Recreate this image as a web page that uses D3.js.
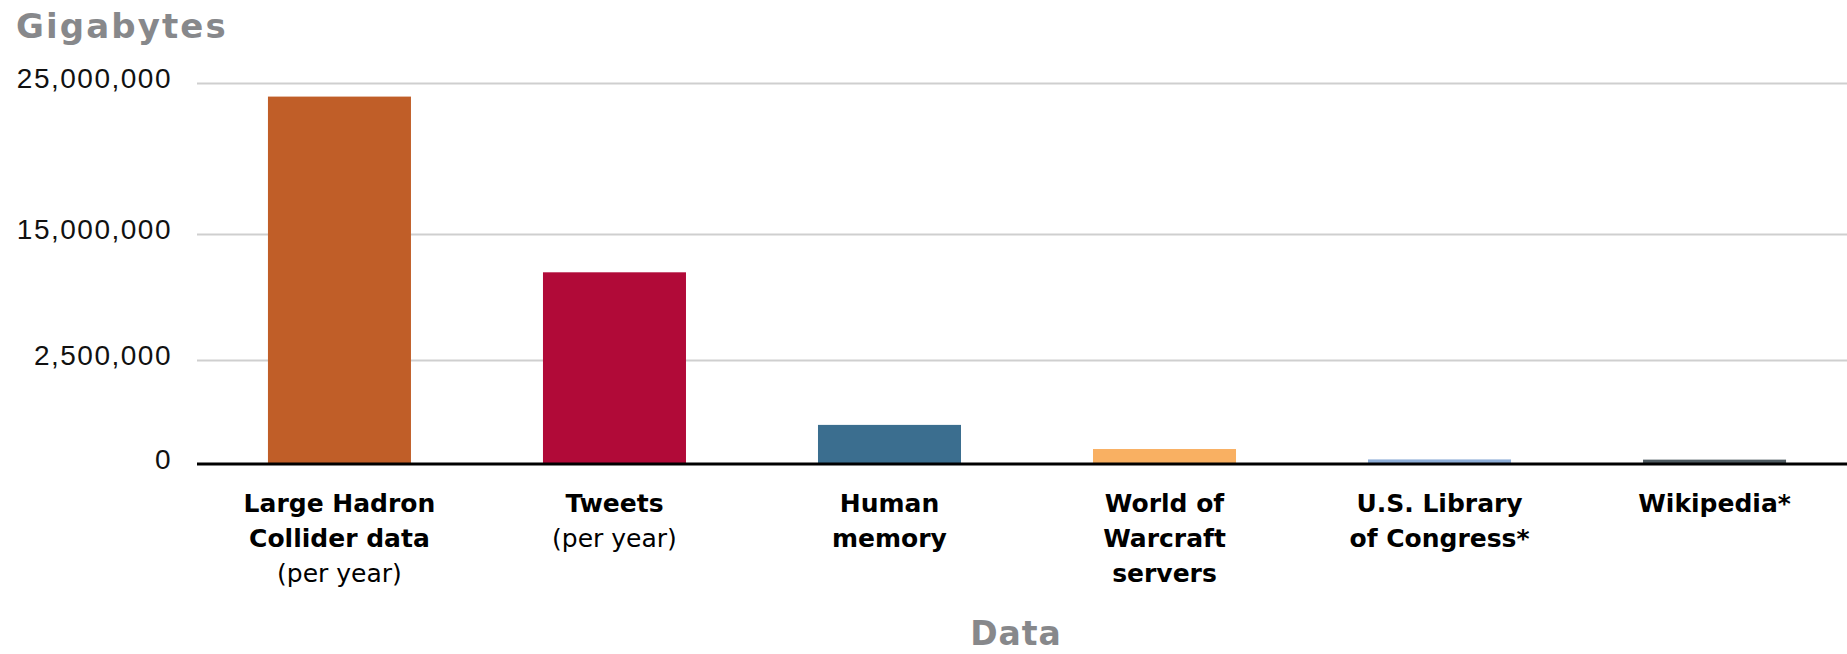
<!DOCTYPE html>
<html>
<head>
<meta charset="utf-8">
<script src="https://cdn.jsdelivr.net/npm/d3@7"></script>
<style>
  body { margin: 0; background: #fff; }
  svg { display: block; font-family: "DejaVu Sans", sans-serif; }
  .grid line { stroke: #cfcfcf; stroke-width: 2px; }
  .grid text { font-size: 28px; fill: #111; letter-spacing: 1.5px; }
  .cat { font-size: 25px; fill: #000; text-anchor: middle; }
  .cat .bold { font-weight: bold; }
  .title { font-weight: bold; fill: #87888b; }
</style>
</head>
<body>
<div id="chart"></div>
<script>
// categories, bold label lines and the small note under each one
var categories = ["lhc", "tweets", "memory", "wow", "loc", "wiki"];
var labelLines = [
  ["Large Hadron", "Collider data"],
  ["Tweets"],
  ["Human", "memory"],
  ["World of", "Warcraft", "servers"],
  ["U.S. Library", "of Congress*"],
  ["Wikipedia*"]
];
var notes = ["(per year)", "(per year)", "", "", "", ""];

// gigabytes
var values = [24100000, 11200000, 940000, 360000, 110000, 105000];
var colors = ["#c05e28", "#b10a38", "#3b6e8f", "#f9b062", "#8eaed8", "#4e5a60"];

// the y axis is piecewise: each tick gets its own band
var yTicks = [0, 2500000, 15000000, 25000000];

var W = 1847, H = 654;
var left = 197, zeroY = 464;

var svg = d3.select("#chart").append("svg")
    .attr("width", W)
    .attr("height", H);

var x = d3.scaleBand()
    .domain(categories)
    .range([left, 1857])
    .paddingInner(0.48)
    .paddingOuter(0.258);

var y = d3.scaleLinear()
    .domain(yTicks)
    .range([zeroY, 360, 234, 83]);

// gridlines + tick labels
var grid = svg.append("g")
    .attr("class", "grid")
    .attr("transform", "translate(" + left + ",0)")
    .call(d3.axisLeft(y)
        .tickValues(yTicks)
        .tickSize(-(W - left))
        .tickPadding(25)
        .tickFormat(d3.format(",")));
grid.select(".domain").remove();
grid.selectAll("text").attr("dy", "0.17em");
grid.selectAll(".tick").filter(function (d) { return d === 0; })
    .select("line").remove();

// bars
svg.append("g")
    .selectAll("rect")
    .data(values)
    .enter().append("rect")
    .attr("x", function (d, i) { return x(categories[i]); })
    .attr("width", x.bandwidth())
    .attr("y", function (d) { return y(d); })
    .attr("height", function (d) { return y(0) - y(d); })
    .attr("fill", function (d, i) { return colors[i]; });

// baseline
svg.append("line")
    .attr("x1", left).attr("x2", W)
    .attr("y1", y(0)).attr("y2", y(0))
    .attr("stroke", "#000")
    .attr("stroke-width", 3);

// category labels
var lineH = 35;
var labels = svg.append("g")
    .selectAll("text")
    .data(categories)
    .enter().append("text")
    .attr("class", "cat")
    .attr("x", function (d) { return x(d) + x.bandwidth() / 2; })
    .attr("y", 512);

labels.each(function (d, i) {
  var t = d3.select(this);
  var cx = x(d) + x.bandwidth() / 2;
  labelLines[i].forEach(function (line, j) {
    t.append("tspan")
      .attr("class", "bold")
      .attr("x", cx)
      .attr("dy", j === 0 ? 0 : lineH)
      .text(line);
  });
  if (notes[i]) {
    t.append("tspan")
      .attr("x", cx)
      .attr("dy", lineH)
      .text(notes[i]);
  }
});

// titles
svg.append("text")
    .attr("class", "title")
    .attr("x", 16)
    .attr("y", 38)
    .style("font-size", "34px")
    .style("letter-spacing", "2.1px")
    .text("Gigabytes");

svg.append("text")
    .attr("class", "title")
    .attr("x", (left + W) / 2 - 6)
    .attr("y", 645)
    .attr("text-anchor", "middle")
    .style("font-size", "33px")
    .style("letter-spacing", "1px")
    .text("Data");
</script>
</body>
</html>
